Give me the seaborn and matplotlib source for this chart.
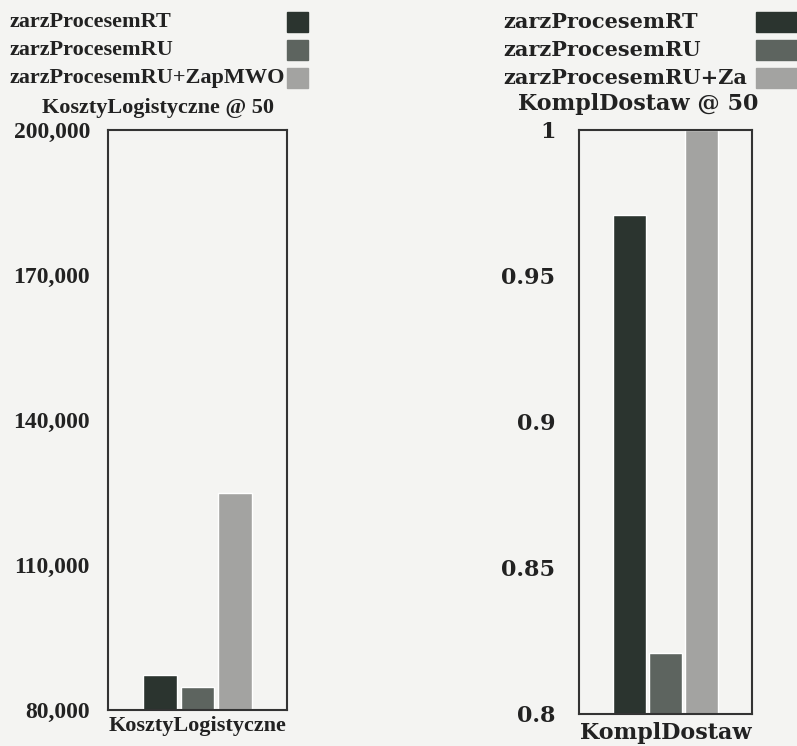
import pandas as pd
import seaborn as sns
import matplotlib.pyplot as plt
from matplotlib.patches import Rectangle

series = ["zarzProcesemRT", "zarzProcesemRU", "zarzProcesemRU+ZapMWO"]
colors = ["#2b342f", "#5d645f", "#a3a3a1"]

koszty_label = "KosztyLogistyczne"
koszty = [87200, 84800, 124900]
koszty_ticks = [80000, 110000, 140000, 170000, 200000]

kompl_label = "KomplDostaw"
kompl = [0.971, 0.821, 1.0]
kompl_ticks = [0.8, 0.85, 0.9, 0.95, 1]

df_k = pd.DataFrame({"metric": koszty_label, "series": series, "value": koszty})
df_d = pd.DataFrame({"metric": kompl_label, "series": series, "value": kompl})

bg = "#f4f4f2"
ink = "#222222"
sns.set_style("white")
plt.rcParams["font.family"] = ["Liberation Serif", "DejaVu Serif"]
plt.rcParams["font.weight"] = "bold"
wide = ["DejaVu Serif"]  # the right chart is printed wider

W, H = 797, 746
fig = plt.figure(figsize=(W / 100, H / 100), dpi=100, facecolor=bg)

def px(x0, y0, x1, y1):
    return [x0 / W, 1 - y1 / H, (x1 - x0) / W, (y1 - y0) / H]

ax1 = fig.add_axes(px(108, 130, 287, 710))
ax2 = fig.add_axes(px(579, 130, 752, 714))

pal = dict(zip(series, colors))
sns.barplot(data=df_k, x="metric", y="value", hue="series", palette=pal,
            width=0.63, gap=0.1, legend=False, ax=ax1, saturation=1)
sns.barplot(data=df_d, x="metric", y="value", hue="series", palette=pal,
            width=0.63, gap=0.1, legend=False, ax=ax2, saturation=1)

ax1.set_ylim(80000, 200000)
ax1.set_yticks(koszty_ticks)
ax1.set_yticklabels([f"{t:,}" for t in koszty_ticks])
ax2.set_ylim(0.8, 1.0)
ax2.set_yticks(kompl_ticks)
ax2.set_yticklabels([f"{t:g}" for t in kompl_ticks])

for ax, pad, xpad in [(ax1, 13, 4), (ax2, 17, 6)]:
    ax.set_facecolor(bg)
    ax.set_xlabel("")
    ax.set_ylabel("")
    ax.tick_params(axis="y", length=0, pad=pad, labelsize=17, labelcolor=ink)
    ax.tick_params(axis="x", length=0, pad=xpad, labelsize=16, labelcolor=ink)
    for s in ax.spines.values():
        s.set_color("#333333")
        s.set_linewidth(1.5)

for lab in ax2.get_yticklabels() + ax2.get_xticklabels():
    lab.set_family(wide)
    lab.set_fontsize(16)

fig.text(158 / W, 1 - 108 / H, "KosztyLogistyczne @ 50", ha="center", va="center",
         fontsize=16, fontweight="bold", color=ink)
fig.text(638 / W, 1 - 104 / H, "KomplDostaw @ 50", ha="center", va="center",
         fontsize=16, fontweight="bold", color=ink, family=wide)

# legends
rows = [22, 50, 78]
for name, c, y in zip(series, colors, rows):
    fig.text(10 / W, 1 - y / H, name, ha="left", va="center", fontsize=16,
             fontweight="bold", color=ink)
    fig.patches.append(Rectangle((287 / W, 1 - (y + 10) / H), 21 / W, 20 / H,
                                 transform=fig.transFigure, color=c))
right_names = ["zarzProcesemRT", "zarzProcesemRU", "zarzProcesemRU+Za"]
for name, c, y in zip(right_names, colors, rows):
    fig.text(503 / W, 1 - y / H, name, ha="left", va="center", fontsize=15,
             fontweight="bold", color=ink, family=wide)
    fig.patches.append(Rectangle((756 / W, 1 - (y + 10) / H), 45 / W, 20 / H,
                                 transform=fig.transFigure, color=c))

fig.savefig("out.png", dpi=100, facecolor=bg)
